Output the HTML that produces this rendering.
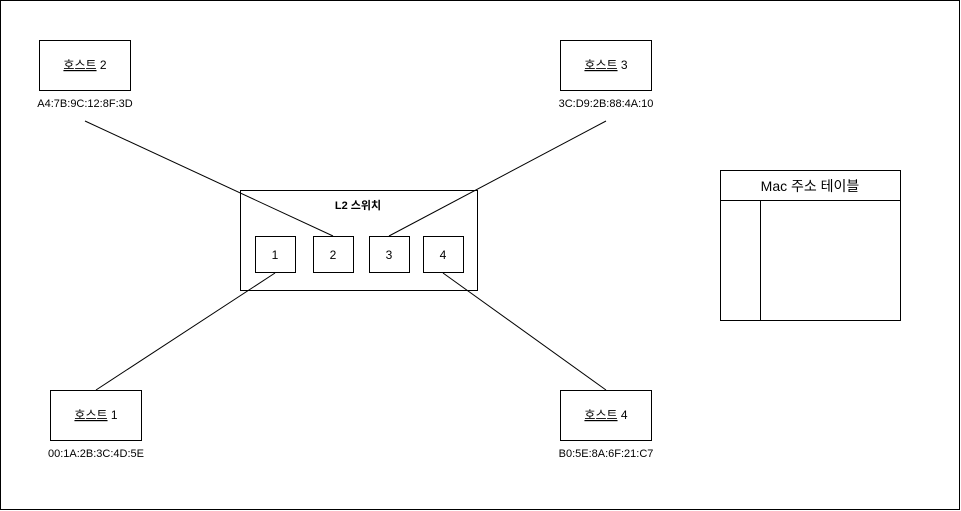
<!DOCTYPE html>
<html><head><meta charset="utf-8"><style>body{margin:0;background:#fff}svg{display:block}text{font-family:"Liberation Sans","Noto Sans CJK KR",sans-serif;fill:#000}</style></head>
<body>
<svg width="961" height="511" viewBox="0 0 961 511" xmlns="http://www.w3.org/2000/svg">
<rect x="0.5" y="0.5" width="959" height="509" fill="#fff" stroke="#000"/>
<g stroke="#000" fill="none">
<line x1="85" y1="121" x2="333" y2="236"/>
<line x1="606" y1="121" x2="389" y2="236"/>
<line x1="275" y1="273" x2="96" y2="390"/>
<line x1="443" y1="273" x2="606" y2="390"/>
</g>
<g stroke="#000" fill="#fff">
<rect x="39.5" y="40.5" width="91" height="50"/>
<rect x="560.5" y="40.5" width="91" height="50"/>
<rect x="50.5" y="390.5" width="91" height="50"/>
<rect x="560.5" y="390.5" width="91" height="50"/>
<rect x="240.5" y="190.5" width="237" height="100" fill="none"/>
<rect x="255.5" y="236.5" width="40" height="36"/>
<rect x="313.5" y="236.5" width="40" height="36"/>
<rect x="369.5" y="236.5" width="40" height="36"/>
<rect x="423.5" y="236.5" width="40" height="36"/>
<rect x="720.5" y="170.5" width="180" height="150"/>
<line x1="720.5" y1="200.5" x2="900.5" y2="200.5"/>
<line x1="760.5" y1="200.5" x2="760.5" y2="320.5"/>
</g>
<g font-size="12" text-anchor="middle">
<text x="85" y="69"><tspan text-decoration="underline">호스트</tspan> 2</text>
<text x="606" y="69"><tspan text-decoration="underline">호스트</tspan> 3</text>
<text x="96" y="419"><tspan text-decoration="underline">호스트</tspan> 1</text>
<text x="606" y="419"><tspan text-decoration="underline">호스트</tspan> 4</text>
<text x="85" y="107" font-size="11">A4:7B:9C:12:8F:3D</text>
<text x="606" y="107" font-size="11">3C:D9:2B:88:4A:10</text>
<text x="96" y="457" font-size="11">00:1A:2B:3C:4D:5E</text>
<text x="606" y="457" font-size="11">B0:5E:8A:6F:21:C7</text>
<text x="358" y="209" font-weight="bold" font-size="11">L2 스위치</text>
<text x="275" y="259">1</text>
<text x="333" y="259">2</text>
<text x="389" y="259">3</text>
<text x="443" y="259">4</text>
<text x="810" y="191" font-size="14">Mac 주소 테이블</text>
</g>
</svg>
</body></html>
